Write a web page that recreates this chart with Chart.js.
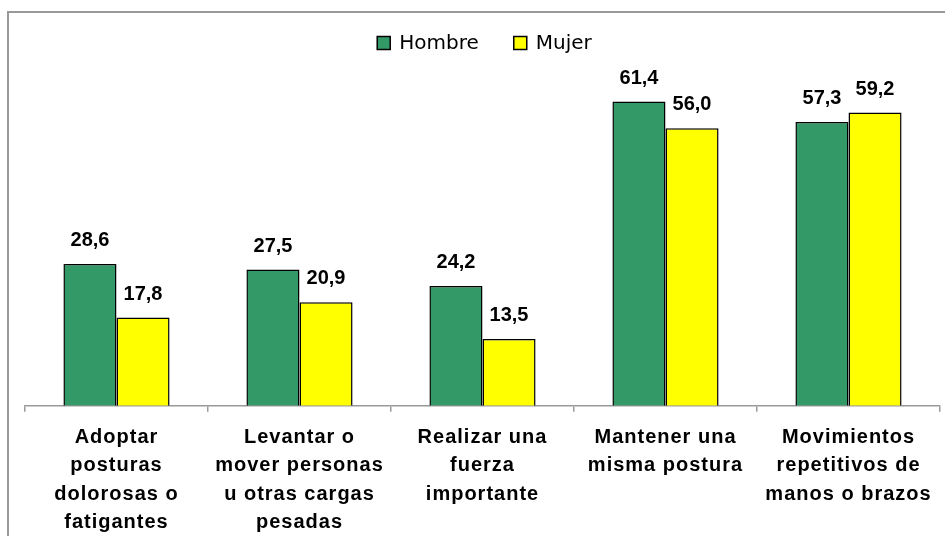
<!DOCTYPE html>
<html>
<head>
<meta charset="utf-8">
<script src="https://cdn.jsdelivr.net/npm/chart.js@4/dist/chart.umd.min.js"></script>
<style>
  html, body { margin: 0; padding: 0; background: #fff; overflow: hidden; }
  #wrap { position: relative; width: 945px; height: 536px; overflow: hidden; }
  #frame { position: absolute; left: 7px; top: 11px; width: 1000px; height: 1000px; border: 2px solid #999; box-sizing: border-box; }
  canvas { position: absolute; left: 0; top: 0; }
</style>
</head>
<body>
<div id="wrap">
  <div id="frame"></div>
  <canvas id="chart" width="945" height="549"></canvas>
</div>
<script>
// categorias (eje x)
const categories = [
  ["Adoptar", "posturas", "dolorosas o", "fatigantes"],
  ["Levantar o", "mover personas", "u otras cargas", "pesadas"],
  ["Realizar una", "fuerza", "importante"],
  ["Mantener una", "misma postura"],
  ["Movimientos", "repetitivos de", "manos o brazos"]
];
const hombre = [28.6, 27.5, 24.2, 61.4, 57.3];
const mujer = [17.8, 20.9, 13.5, 56.0, 59.2];
const seriesNames = ["Hombre", "Mujer"];
const seriesColors = ["#339966", "#FFFF00"];

// un poco de espaciado de letras, como en Excel
const spacingPlugin = {
  id: 'spacing',
  beforeDraw(chart) {
    chart.ctx.letterSpacing = '1px';
  }
};

// etiquetas de valor encima de cada barra
const valueLabels = {
  id: 'valueLabels',
  afterDatasetsDraw(chart) {
    const ctx = chart.ctx;
    ctx.save();
    ctx.letterSpacing = '0px';
    ctx.font = 'bold 20px "Liberation Sans", Arial, sans-serif';
    ctx.fillStyle = '#000';
    ctx.textAlign = 'center';
    ctx.textBaseline = 'alphabetic';
    chart.data.datasets.forEach((ds, di) => {
      chart.getDatasetMeta(di).data.forEach((bar, i) => {
        const txt = ds.data[i].toFixed(1).replace('.', ',');
        ctx.fillText(txt, bar.x, bar.y - 18);
      });
    });
    ctx.restore();
  }
};

// leyenda propia (arriba, centrada)
const legendPlugin = {
  id: 'customLegend',
  afterDraw(chart) {
    const ctx = chart.ctx;
    ctx.save();
    ctx.letterSpacing = '0px';
    ctx.font = '20px "DejaVu Sans", Verdana, sans-serif';
    ctx.textBaseline = 'middle';
    const box = 13, gap = 9, between = 35;
    const items = chart.data.datasets.map(ds => ({ label: ds.label, color: ds.backgroundColor, w: ctx.measureText(ds.label).width }));
    const total = items.reduce((s, it) => s + box + gap + it.w, 0) + between * (items.length - 1);
    const area = chart.chartArea;
    let x = (area.left + area.right) / 2 + 2 - total / 2;
    const cy = 43;
    items.forEach(it => {
      ctx.fillStyle = it.color;
      ctx.fillRect(x, cy - box / 2, box, box);
      ctx.lineWidth = 1.5;
      ctx.strokeStyle = '#000';
      ctx.strokeRect(x, cy - box / 2, box, box);
      ctx.fillStyle = '#000';
      ctx.fillText(it.label, x + box + gap, cy + 1);
      x += box + gap + it.w + between;
    });
    ctx.restore();
  }
};

new Chart(document.getElementById('chart'), {
  type: 'bar',
  data: {
    labels: categories,
    datasets: [
      { label: seriesNames[0], data: hombre, backgroundColor: seriesColors[0], borderColor: '#000', borderWidth: 1.5 },
      { label: seriesNames[1], data: mujer, backgroundColor: seriesColors[1], borderColor: '#000', borderWidth: 1.5 }
    ]
  },
  options: {
    responsive: false,
    animation: false,
    devicePixelRatio: 1,
    layout: { padding: { top: 59, left: 25, right: 5, bottom: 1 } },
    datasets: { bar: { categoryPercentage: 0.58, barPercentage: 1 } },
    plugins: {
      legend: { display: false },
      title: { display: false },
      tooltip: { enabled: false }
    },
    scales: {
      y: { display: false, min: 0, max: 70 },
      x: {
        border: { color: '#999', width: 1.5 },
        grid: { offset: true, drawOnChartArea: false, drawTicks: true, tickLength: 6, color: '#999', lineWidth: 1.5 },
        ticks: {
          color: '#000',
          maxRotation: 0,
          autoSkip: false,
          padding: 11.5,
          font: { family: '"Liberation Sans", Arial, sans-serif', size: 20, weight: 'bold', lineHeight: 1.415 }
        }
      }
    }
  },
  plugins: [spacingPlugin, valueLabels, legendPlugin]
});
</script>
</body>
</html>
